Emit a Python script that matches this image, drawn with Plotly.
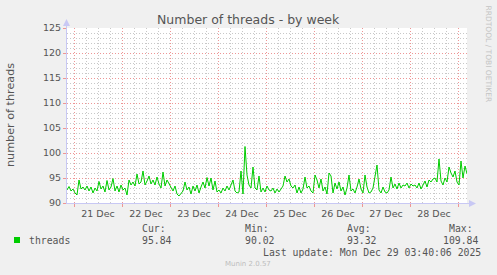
import plotly.graph_objects as go
import pandas as pd

# ---------------- data ----------------
start_time = "2025-12-20 20:30"
threads = [
    92.6, 93.3, 92.4, 92.8, 92.0, 91.6, 94.6, 92.8, 93.2, 92.6,
    93.4, 92.4, 93.2, 92.0, 93.0, 92.4, 94.3, 92.8, 93.4, 92.2,
    94.5, 92.6, 93.2, 94.9, 92.4, 93.4, 92.2, 93.6, 92.6, 93.0,
    91.6, 94.6, 93.6, 94.2, 93.4, 95.8, 93.8, 94.2, 96.4, 93.6,
    94.4, 95.4, 93.8, 94.6, 93.6, 95.2, 93.8, 93.0, 96.2, 93.4,
    94.6,
    93.8, 93.2, 92.4, 93.4, 91.8, 91.4, 91.8, 92.4, 94.2, 92.6,
    93.2, 91.8, 93.4, 92.4, 93.6, 92.0, 93.2, 94.2, 93.0, 95.1,
    93.4, 95.0, 92.6, 94.4, 92.2, 92.6, 92.0, 93.0, 92.4, 93.4,
    92.6, 93.6, 94.6, 92.4, 92.0, 92.2, 96.4, 91.8, 101.3, 95.6,
    93.6, 93.0, 97.2, 93.0, 92.6, 95.4, 92.2, 93.0, 92.2, 93.4,
    92.6,
    92.4, 93.0, 92.0, 92.8, 92.2, 92.8, 93.4, 95.4, 94.2, 94.8,
    93.4, 93.0, 93.6, 92.0, 93.2, 92.0, 92.8, 95.2, 93.0, 93.4,
    92.4, 92.0, 95.6, 94.6, 93.0, 94.8, 92.4, 93.2, 91.8, 96.0,
    95.4, 92.0, 94.0, 92.8, 94.2, 92.4, 93.2, 91.6, 93.0, 95.6,
    92.4, 92.8, 92.0, 93.2, 94.8, 92.8, 92.0, 95.6, 93.2, 92.0,
    92.2, 93.0, 95.8, 97.6, 92.6, 92.0, 93.2, 92.2, 92.0, 92.6,
    95.2, 93.0, 93.8, 92.8, 94.0, 93.0, 93.6, 93.4, 94.0, 93.0,
    93.8, 93.4, 93.6, 93.0, 94.0, 92.8, 93.6, 94.4, 93.2, 94.6,
    94.2, 94.8, 95.0, 94.2, 98.8, 94.4, 93.6, 95.0, 94.2, 97.2,
    96.0, 95.2, 96.4, 94.2, 93.6, 98.4, 95.0, 97.4, 95.84,
]
day_starts = ["2025-12-21", "2025-12-22", "2025-12-23", "2025-12-24", "2025-12-25",
              "2025-12-26", "2025-12-27", "2025-12-28", "2025-12-29"]
day_labels = ["21 Dec", "22 Dec", "23 Dec", "24 Dec", "25 Dec", "26 Dec", "27 Dec", "28 Dec"]
y_ticks = [90, 95, 100, 105, 110, 115, 120, 125]
series_name = "threads"
stat_labels = ["Cur:", "Min:", "Avg:", "Max:"]
stat_values = ["95.84", "90.02", "93.32", "109.84"]
title_text = "Number of threads - by week"
y_title = "number of threads"
last_update = "Last update: Mon Dec 29 03:40:06 2025"
watermark = "Munin 2.0.57"
side_text = "RRDTOOL / TOBI OETIKER"

# ---------------- derived ----------------
times = pd.date_range(start_time, periods=len(threads), freq="h")
x_range = [times[0], times[-1]]
label_pos = [pd.Timestamp(d) + pd.Timedelta(hours=12) for d in day_starts[:-1]]

W, H = 497, 275
L, R, T, B = 67, 30, 28, 72
PW, PH = W - L - R, H - T - B


def px(x):
    return (x - L) / PW


def py(y):
    return (H - B - y) / PH


GREEN = "#00CC00"
MAJOR = "rgb(238,150,150)"
MINOR = "rgb(200,200,200)"
DOTS = "1px,2px"
AXIS = "#c8c8f4"
TXT = "#555555"
MONO = "DejaVu Sans Mono"
SANS = "DejaVu Sans"

fig = go.Figure()
# invisible trace to keep the base subplot alive (grid layer)
fig.add_trace(go.Scatter(x=[times[0]], y=[y_ticks[0]], mode="markers",
                         marker=dict(opacity=0), hoverinfo="skip", showlegend=False,
                         xaxis="x", yaxis="y"))
fig.add_trace(go.Scatter(x=times, y=threads, mode="lines", name=series_name,
                         line=dict(color=GREEN, width=1), showlegend=False,
                         xaxis="x2", yaxis="y"))

fig.update_layout(
    width=W, height=H,
    margin=dict(l=L, r=R, t=T, b=B, pad=0),
    paper_bgcolor="#F0F0F0",
    plot_bgcolor="#FFFFFF",
    font=dict(family=SANS, size=9.5, color=TXT),
    xaxis=dict(
        type="date", range=x_range, tickvals=day_starts, showticklabels=False,
        showgrid=True, gridcolor=MAJOR, griddash=DOTS, gridwidth=1,
        ticks="outside", ticklen=3, tickcolor=MAJOR, showline=False, zeroline=False,
        minor=dict(dtick=6 * 3600 * 1000, tick0="2025-12-21", showgrid=True,
                   gridcolor=MINOR, griddash=DOTS, gridwidth=1),
        fixedrange=True,
    ),
    xaxis2=dict(
        type="date", range=x_range, overlaying="x", anchor="y", side="bottom",
        tickvals=label_pos, ticktext=day_labels, showgrid=False, ticks="",
        ticklabelstandoff=3, tickfont=dict(family=SANS, size=9.5, color=TXT),
        showline=False, zeroline=False,
    ),
    yaxis=dict(
        range=[y_ticks[0], y_ticks[-1]], tickvals=y_ticks,
        showgrid=True, gridcolor=MAJOR, griddash=DOTS, gridwidth=1,
        ticks="outside", ticklen=3, tickcolor=MAJOR,
        tickfont=dict(family=SANS, size=9.5, color=TXT),
        minor=dict(dtick=1, showgrid=True, gridcolor=MINOR, griddash=DOTS, gridwidth=1),
        showline=False, zeroline=False,
    ),
    showlegend=False,
)

shapes = [
    # axis lines
    dict(type="line", xref="paper", yref="paper", x0=px(66.5), x1=px(66.5), y0=py(203), y1=py(23),
         line=dict(color=AXIS, width=1)),
    dict(type="line", xref="paper", yref="paper", x0=px(66), x1=px(472), y0=py(203.5), y1=py(203.5),
         line=dict(color=AXIS, width=1)),
    # arrow heads
    dict(type="path", xref="paper", yref="paper",
         path=f"M {px(66.5)},{py(19)} L {px(63)},{py(26)} L {px(70)},{py(26)} Z",
         fillcolor=AXIS, line=dict(width=0)),
    dict(type="path", xref="paper", yref="paper",
         path=f"M {px(476)},{py(203.5)} L {px(469)},{py(200)} L {px(469)},{py(207)} Z",
         fillcolor=AXIS, line=dict(width=0)),
    # legend swatch
    dict(type="rect", xref="paper", yref="paper", x0=px(14), x1=px(20), y0=py(243), y1=py(237),
         fillcolor=GREEN, line=dict(width=0)),
]
fig.update_layout(shapes=shapes)

ann = [
    dict(text=title_text, x=px(248), y=py(19), xanchor="center", yanchor="middle",
         font=dict(family=SANS, size=12.5, color=TXT)),
    dict(text=y_title, x=px(10.5), y=py(115.5), xanchor="center", yanchor="middle", textangle=-90,
         font=dict(family=SANS, size=11.2, color=TXT)),
    dict(text=side_text, x=px(488.5), y=py(54), xanchor="center", yanchor="middle", textangle=90,
         font=dict(family=SANS, size=7.5, color="#c4c4c4")),
    dict(text=series_name, x=px(27), y=py(240), xanchor="left", yanchor="middle",
         font=dict(family=MONO, size=9.8, color=TXT)),
    dict(text=last_update, x=px(483), y=py(252), xanchor="right", yanchor="middle",
         font=dict(family=MONO, size=9.8, color=TXT)),
    dict(text=watermark, x=px(247.5), y=py(263.5), xanchor="center", yanchor="middle",
         font=dict(family=SANS, size=7, color="#bdbdbd")),
]
head_x = [140, 242.7, 344.7, 446.7]
val_x = [140, 243, 345, 441.3]
for lab, val, hx, vx in zip(stat_labels, stat_values, head_x, val_x):
    ann.append(dict(text=lab, x=px(hx), y=py(228), xanchor="left", yanchor="middle",
                    font=dict(family=MONO, size=9.8, color=TXT)))
    ann.append(dict(text=val, x=px(vx), y=py(240), xanchor="left", yanchor="middle",
                    font=dict(family=MONO, size=9.8, color=TXT)))
for a in ann:
    a.update(xref="paper", yref="paper", showarrow=False)
fig.update_layout(annotations=ann)

fig.write_html("out.html")
